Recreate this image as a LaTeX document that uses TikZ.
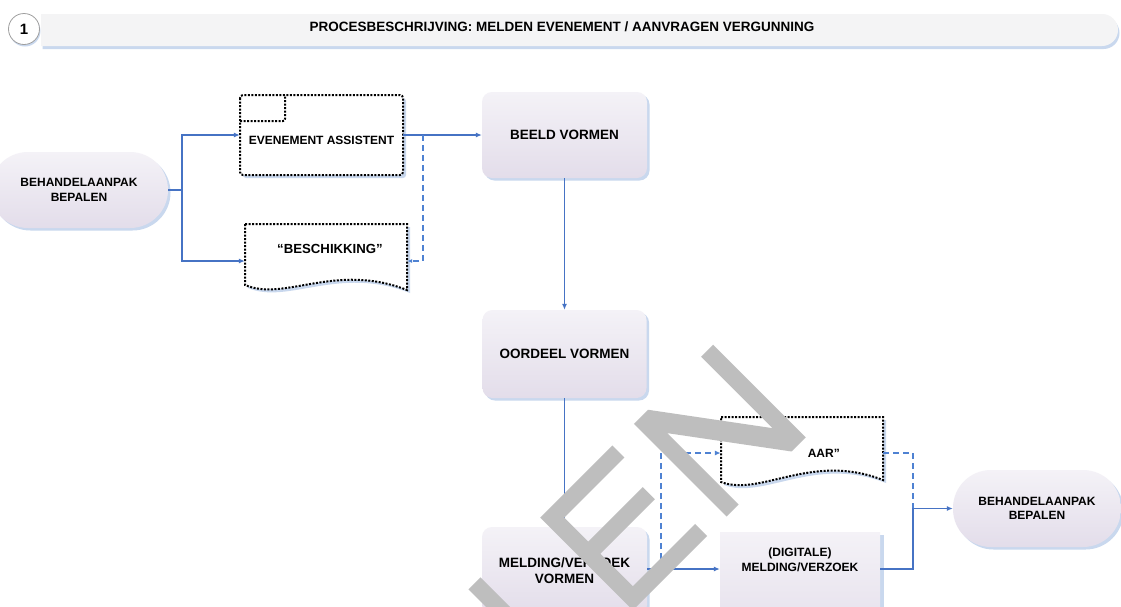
\documentclass[tikz,border=0pt]{standalone}
\usepackage{fontspec}
\setmainfont{Liberation Sans}
\usetikzlibrary{arrows.meta,shadows,shapes.misc}
\definecolor{flowblue}{HTML}{4673C4}
\definecolor{dashblue}{HTML}{4F82D2}
\definecolor{lavtop}{HTML}{F4F2F7}
\definecolor{lavbot}{HTML}{E3DDEA}
\definecolor{shadblue}{HTML}{C9D8EE}
\definecolor{hdrfill}{HTML}{F4F4F5}
\definecolor{wmgray}{HTML}{BEBEBE}
\tikzset{
  lbl/.style={font=\bfseries\fontsize{12}{14.5}\selectfont, align=center, inner sep=0pt},
  biglbl/.style={font=\bfseries\fontsize{13.5}{16}\selectfont},
  procbox/.style={rectangle, rounded corners=10pt, top color=lavtop, bottom color=lavbot, draw=none,
    drop shadow={shadow xshift=2.5pt, shadow yshift=-2.5pt, fill=shadblue, opacity=1}, lbl},
  stadium/.style={procbox, rounded corners=38pt},
  anchorbox/.style={rectangle, inner sep=0pt, draw=none},
  dotline/.style={draw=black, line width=2pt, dash pattern=on 2pt off 1.5pt},
  flow/.style={draw=flowblue, line width=1.1pt, -{Latex[length=6pt,width=5pt]}},
  dflow/.style={draw=dashblue, line width=1.2pt, dash pattern=on 6pt off 4pt},
}
\begin{document}
\begin{tikzpicture}[x=1pt,y=-1pt]
\fill[white] (0,0) rectangle (1121,606);
\useasboundingbox (0,0) rectangle (1121,606);

% header
\node[rounded rectangle, rounded rectangle left arc=none, minimum width=1077pt, minimum height=32pt,
  fill=hdrfill, draw=none, inner sep=0pt,
  drop shadow={shadow xshift=1.5pt, shadow yshift=-3pt, fill=shadblue, opacity=1}] (hdr) at (579.5,30) {};
\node[circle, fill=white, draw=gray!75, line width=0.8pt, minimum size=31pt, inner sep=0pt,
  font=\bfseries\fontsize{15}{15}\selectfont,
  drop shadow={shadow xshift=1pt, shadow yshift=-2pt, fill=shadblue, opacity=1}] (num) at (24,29) {1};
\node[font=\bfseries\fontsize{13.5}{15}\selectfont, inner sep=0pt] (title) at (562,27)
  {PROCESBESCHRIJVING: MELDEN EVENEMENT / AANVRAGEN VERGUNNING};

% left stadium
\node[stadium, minimum width=178pt, minimum height=76pt] (beh1) at (79,190) {BEHANDELAANPAK\\BEPALEN};

% evenement assistent
\node[anchorbox, minimum width=163pt, minimum height=80pt] (ea) at (321.5,135) {};
\fill[shadblue, rounded corners=3pt] (243,98) rectangle (406,178);
\path[dotline, fill=white, rounded corners=3pt] (240,95) rectangle (403,175);
\draw[dotline, rounded corners=2pt] (240,121) -| (285,95);
\node[lbl] (eatxt) at (321.5,140) {EVENEMENT ASSISTENT};

% beschikking document
\node[anchorbox, minimum width=162pt, minimum height=74pt] (besch) at (326,261) {};
\fill[shadblue] (248,227) -- (410,227) -- (410,293) .. controls (338,265) and (288,305) .. (248,288) -- cycle;
\path[dotline, fill=white] (245,224) -- (407,224) -- (407,290) .. controls (335,262) and (285,302) .. (245,285) -- cycle;
\node[lbl, font=\bfseries\fontsize{13.2}{15}\selectfont] (beschtxt) at (330,249) {“BESCHIKKING”};

% process boxes
\node[procbox, biglbl, minimum width=165pt, minimum height=86pt] (beeld) at (564.5,135) {BEELD VORMEN};
\node[procbox, biglbl, minimum width=164pt, minimum height=88pt] (oordeel) at (564.5,354) {OORDEEL VORMEN};
\node[procbox, biglbl, minimum width=165pt, minimum height=88pt] (melding) at (564.5,571) {MELDING/VERZOEK\\VORMEN};

% bezwaar document
\node[anchorbox, minimum width=162pt, minimum height=72pt] (bez) at (802,453) {};
\fill[shadblue] (724,420) -- (886,420) -- (886,483) .. controls (814,455) and (764,500) .. (724,485) -- cycle;
\path[dotline, fill=white] (721,417) -- (883,417) -- (883,480) .. controls (811,452) and (761,497) .. (721,482) -- cycle;
\node[lbl, anchor=east] (beztxt) at (840,453) {AAR”};

% digitale melding document
\node[anchorbox, minimum width=160pt, minimum height=74pt] (dig) at (800,569) {};
\fill[shadblue] (723,535) -- (884,535) -- (884,640) -- (723,640) -- cycle;
\path[top color=lavtop, bottom color=lavbot] (720,532) -- (880,532) -- (880,630) .. controls (810,610) and (760,650) .. (720,630) -- cycle;
\node[lbl] (digtxt) at (800,560) {(DIGITALE)\\MELDING/VERZOEK};

% right stadium
\node[stadium, minimum width=168pt, minimum height=77pt] (beh2) at (1037,508.5) {BEHANDELAANPAK\\BEPALEN};

% connectors
\coordinate (j1) at (182,190);
\coordinate (j2) at (423,135);
\coordinate (j3) at (661,569);
\coordinate (j4) at (913,508.5);
\draw[flow] (beh1.east) -- (j1) |- (ea.west);
\draw[flow] (j1) |- (besch.west);
\draw[flow] (ea.east) -- (beeld.west);
\draw[dflow, -{Latex[length=5pt,width=4pt]}] (j2) |- (besch.east);
\draw[flow] (beeld.south) -- (oordeel.north);
\draw[flow] (oordeel.south) -- (melding.north);
\draw[flow] (melding.east |- dig.west) -- (dig.west);
\draw[dflow, -{Latex[length=6pt,width=5pt]}] (j3) |- (bez.west);
\draw[dflow] (bez.east) -| (j4);
\draw[flow] (dig.east) -| (j4) -- (beh2.west);

% watermark
\begin{scope}[x=1pt,y=1pt,rotate=45]
\fill[wmgray] (16,-879) -- (16,-748) -- (118,-748) -- (118,-765) -- (33,-765) -- (33,-799) -- (110,-799)
  -- (110,-816) -- (33,-816) -- (33,-862) -- (121,-862) -- (121,-879) -- cycle;
\fill[wmgray] (148.5,-879) -- (148.5,-748) -- (168.5,-748) -- (243.5,-849) -- (243.5,-748) -- (260.5,-748)
  -- (260.5,-879) -- (240.5,-879) -- (165.5,-778) -- (165.5,-879) -- cycle;
\fill[wmgray] (-85.5,-748) -- (-68.5,-748) -- (-68.5,-950) -- (-85.5,-950) -- cycle;
\end{scope}
\end{tikzpicture}
\end{document}
